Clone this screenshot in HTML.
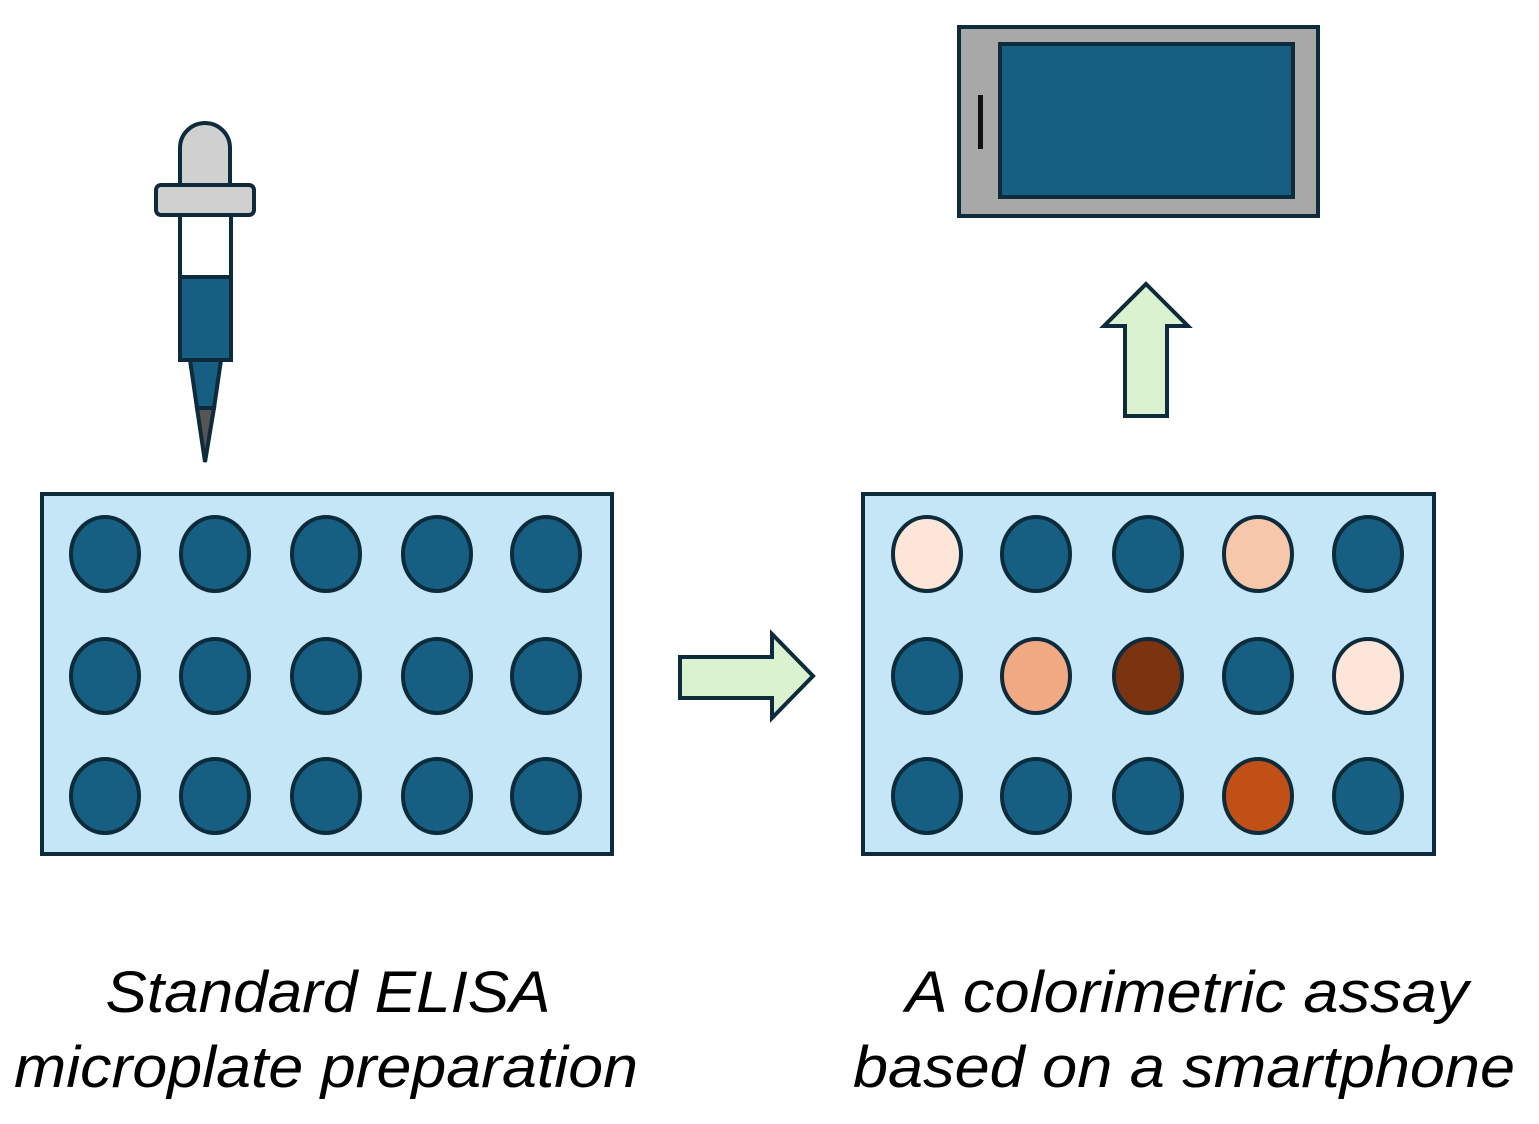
<!DOCTYPE html>
<html><head><style>body{margin:0;background:#fff}svg{display:block}</style></head><body>
<svg width="1539" height="1124" viewBox="0 0 1539 1124" xmlns="http://www.w3.org/2000/svg">
<g stroke="#0d2b3a" stroke-width="4">
<path d="M180 185 V148 A25 25 0 0 1 230 148 V185 Z" fill="#d0d0d0"/>
<rect x="156" y="185" width="98" height="30" rx="5" fill="#d0d0d0"/>
<rect x="180" y="215" width="51" height="62" fill="#fff"/>
<rect x="180" y="277" width="51" height="83" fill="#175f82"/>
<path d="M190 360 H221 L214 408 H197 Z" fill="#175f82"/>
<path d="M197 408 H214 L205 462 Z" fill="#555"/>
<rect x="42" y="494" width="570" height="360" fill="#c5e6f6"/>
<rect x="863" y="494" width="571" height="360" fill="#c5e6f6"/>
<path d="M680 657 H772 V634 L813 676 L772 718 V698 H680 Z" fill="#daf2d0"/>
<path d="M1146 284 L1188 326 H1167 V416 H1125 V326 H1104 Z" fill="#daf2d0"/>
<rect x="959" y="27" width="359" height="189" fill="#a8a8a8"/>
<rect x="1000" y="44" width="293" height="153" fill="#175f82"/>
</g>
<rect x="978" y="95" width="5" height="54" fill="#111"/>
<g stroke="#0d2b3a" stroke-width="4">
<g fill="#175f82">
<ellipse cx="105" cy="554" rx="34" ry="37"/><ellipse cx="215" cy="554" rx="34" ry="37"/><ellipse cx="326" cy="554" rx="34" ry="37"/><ellipse cx="437" cy="554" rx="34" ry="37"/><ellipse cx="546" cy="554" rx="34" ry="37"/>
<ellipse cx="105" cy="676" rx="34" ry="37"/><ellipse cx="215" cy="676" rx="34" ry="37"/><ellipse cx="326" cy="676" rx="34" ry="37"/><ellipse cx="437" cy="676" rx="34" ry="37"/><ellipse cx="546" cy="676" rx="34" ry="37"/>
<ellipse cx="105" cy="796" rx="34" ry="37"/><ellipse cx="215" cy="796" rx="34" ry="37"/><ellipse cx="326" cy="796" rx="34" ry="37"/><ellipse cx="437" cy="796" rx="34" ry="37"/><ellipse cx="546" cy="796" rx="34" ry="37"/>
<ellipse cx="1036" cy="554" rx="34" ry="37"/><ellipse cx="1148" cy="554" rx="34" ry="37"/><ellipse cx="1368" cy="554" rx="34" ry="37"/>
<ellipse cx="927" cy="676" rx="34" ry="37"/><ellipse cx="1258" cy="676" rx="34" ry="37"/>
<ellipse cx="927" cy="796" rx="34" ry="37"/><ellipse cx="1036" cy="796" rx="34" ry="37"/><ellipse cx="1148" cy="796" rx="34" ry="37"/><ellipse cx="1368" cy="796" rx="34" ry="37"/>
</g>
<ellipse cx="927" cy="554" rx="34" ry="37" fill="#fde5d8"/>
<ellipse cx="1258" cy="554" rx="34" ry="37" fill="#f6c7aa"/>
<ellipse cx="1036" cy="676" rx="34" ry="37" fill="#f1a983"/>
<ellipse cx="1148" cy="676" rx="34" ry="37" fill="#7c3410"/>
<ellipse cx="1368" cy="676" rx="34" ry="37" fill="#fde5d8"/>
<ellipse cx="1258" cy="796" rx="34" ry="37" fill="#c05016"/>
</g>
<g font-family="Liberation Sans, sans-serif" font-style="italic" font-size="58" fill="#000" text-anchor="middle">
<text x="328" y="1012" textLength="445" lengthAdjust="spacingAndGlyphs">Standard ELISA</text>
<text x="326" y="1087" textLength="624" lengthAdjust="spacingAndGlyphs">microplate preparation</text>
<text x="1187" y="1012" textLength="563" lengthAdjust="spacingAndGlyphs">A colorimetric assay</text>
<text x="1184" y="1087" textLength="662" lengthAdjust="spacingAndGlyphs">based on a smartphone</text>
</g>
</svg>
</body></html>
